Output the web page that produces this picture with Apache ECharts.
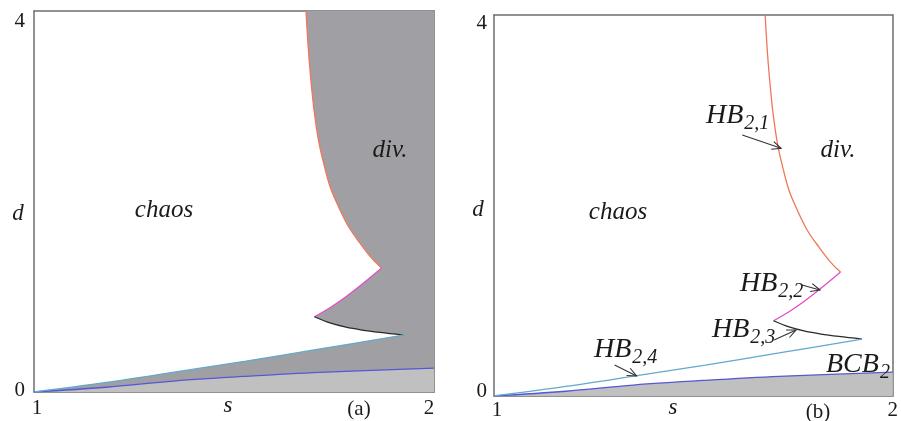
<!DOCTYPE html>
<html>
<head>
<meta charset="utf-8">
<script src="https://cdn.jsdelivr.net/npm/echarts@6/dist/echarts.min.js"></script>
<style>
html,body{margin:0;padding:0;background:#fff;}
#c{width:901px;height:421px;}
</style>
</head>
<body>
<div id="c"></div>
<script>
// ---- data (s, d) ----
const xTicks = [1, 2];
const yTicks = [0, 4];

// HB2,1 (red)
const redS = [1.680, 1.686, 1.693, 1.700, 1.711, 1.724, 1.740, 1.761, 1.786, 1.815, 1.844, 1.869];
const redD = [4.000, 3.591, 3.241, 2.962, 2.647, 2.402, 2.157, 1.948, 1.738, 1.563, 1.406, 1.301];
// HB2,2 (magenta)
const pinkS = [1.869, 1.820, 1.780, 1.740, 1.701];
const pinkD = [1.301, 1.130, 1.000, 0.885, 0.790];
// HB2,3 (black)
const blackS = [1.701, 1.740, 1.780, 1.820, 1.865, 1.923];
const blackD = [0.790, 0.725, 0.680, 0.650, 0.625, 0.598];
// HB2,4 (light blue)
const cyanS = [1.923, 1.715, 1.530, 1.350, 1.180, 1.000];
const cyanD = [0.598, 0.452, 0.325, 0.208, 0.100, 0.000];
// BCB2 (blue)
const blueS = [1.000, 1.180, 1.350, 1.530, 1.715, 2.000];
const blueD = [0.000, 0.050, 0.115, 0.165, 0.207, 0.250];

const pairs = (xs, ys) => xs.map((x, i) => [x, ys[i]]);

// divergence region boundary: red -> pink -> black -> cyan -> bottom -> right edge
const divPoly = [].concat(
  pairs(redS, redD), pairs(pinkS, pinkD), pairs(blackS, blackD), pairs(cyanS, cyanD),
  [[2, 0], [2, 4]]
);

const C_RED = '#f0765a', C_PINK = '#e44cc8', C_BLACK = '#2a2a2a', C_CYAN = '#62aacb', C_BLUE = '#5656d6';
const C_DARK = '#a0a0a4', C_LIGHT = '#c0c0c0', C_AX = '#6e6e6e';
const SERIF = '"Liberation Serif", "Times New Roman", serif';

const chart = echarts.init(document.getElementById('c'), null, {renderer: 'canvas'});

function xAx(gi, xPadL, xPadR, margin) {
  return {
    type: 'value', gridIndex: gi, min: 1, max: 2, interval: 1,
    axisLine: {show: true, onZero: false, lineStyle: {color: C_AX, width: 1.5}},
    axisTick: {show: false}, splitLine: {show: false},
    axisLabel: {
      margin: margin, color: '#1a1a1a', fontFamily: SERIF, fontSize: 21,
      formatter: v => (v === xTicks[0] ? '{l|' + v + '}' : '{r|' + v + '}'),
      rich: {
        l: {fontFamily: SERIF, fontSize: 21, color: '#1a1a1a', padding: [0, 0, 0, xPadL]},
        r: {fontFamily: SERIF, fontSize: 21, color: '#1a1a1a', padding: [0, xPadR, 0, 0]}
      }
    }
  };
}
function yAx(gi, padTop, padBot, margin) {
  return {
    type: 'value', gridIndex: gi, min: 0, max: 4, interval: 4,
    axisLine: {show: true, onZero: false, lineStyle: {color: C_AX, width: 1.5}},
    axisTick: {show: false}, splitLine: {show: false},
    axisLabel: {
      margin: margin, color: '#1a1a1a', fontFamily: SERIF, fontSize: 21,
      formatter: v => (v === yTicks[1] ? '{t|' + v + '}' : '{b|' + v + '}'),
      rich: {
        t: {fontFamily: SERIF, fontSize: 21, color: '#1a1a1a', padding: [padTop, 0, 0, 0]},
        b: {fontFamily: SERIF, fontSize: 21, color: '#1a1a1a', padding: [0, 0, padBot, 0]}
      }
    }
  };
}
function frameX(gi) {
  return {type: 'value', gridIndex: gi, min: 1, max: 2, position: 'top',
    axisLine: {show: true, onZero: false, lineStyle: {color: C_AX, width: 1.5}},
    axisTick: {show: false}, axisLabel: {show: false}, splitLine: {show: false}};
}
function frameY(gi) {
  return {type: 'value', gridIndex: gi, min: 0, max: 4, position: 'right',
    axisLine: {show: true, onZero: false, lineStyle: {color: C_AX, width: 1.5}},
    axisTick: {show: false}, axisLabel: {show: false}, splitLine: {show: false}};
}
function curve(xi, yi, xs, ys, color, z) {
  return {type: 'line', xAxisIndex: xi, yAxisIndex: yi, data: pairs(xs, ys), smooth: 0.35,
    showSymbol: false, symbol: 'none', lineStyle: {color: color, width: 1.3}, z: z || 5, silent: true, animation: false};
}

const series = [
  // panel (a): divergence region
  {type: 'custom', xAxisIndex: 0, yAxisIndex: 0, data: [[1, 0]], z: 1, silent: true, animation: false,
    renderItem: (params, api) => {
      const pts = divPoly.map(p => api.coord(p));
      return {type: 'polygon', shape: {points: pts}, style: {fill: C_DARK}};
    }},
  {type: 'line', xAxisIndex: 0, yAxisIndex: 0, data: pairs(blueS, blueD), showSymbol: false, symbol: 'none', smooth: 0.35,
    lineStyle: {color: C_BLUE, width: 1.3}, areaStyle: {color: C_LIGHT, opacity: 1}, z: 2, silent: true, animation: false},
  curve(0, 0, redS, redD, C_RED),
  curve(0, 0, pinkS, pinkD, C_PINK),
  curve(0, 0, blackS, blackD, C_BLACK),
  curve(0, 0, cyanS, cyanD, C_CYAN),
  // panel (b)
  {type: 'line', xAxisIndex: 2, yAxisIndex: 2, data: pairs(blueS, blueD), showSymbol: false, symbol: 'none', smooth: 0.35,
    lineStyle: {color: C_BLUE, width: 1.3}, areaStyle: {color: C_LIGHT, opacity: 1}, z: 2, silent: true, animation: false},
  curve(2, 2, redS, redD, C_RED),
  curve(2, 2, pinkS, pinkD, C_PINK),
  curve(2, 2, blackS, blackD, C_BLACK),
  curve(2, 2, cyanS, cyanD, C_CYAN)
];

chart.setOption({
  animation: false,
  backgroundColor: '#ffffff',
  grid: [
    {left: 34, top: 11, width: 400, height: 381, containLabel: false},
    {left: 494, top: 15, width: 400, height: 381, containLabel: false}
  ],
  xAxis: [xAx(0, 6, 10, 6), frameX(0), xAx(1, 6, 0, 4), frameX(1)],
  yAxis: [yAx(0, 20, 4, 9), frameY(0), yAx(1, 16, 10, 7), frameY(1)],
  series: series
});

// ---- annotations ----
const IT = s => 'italic ' + s + 'px ' + SERIF;
const RM = s => s + 'px ' + SERIF;
const mctx = document.createElement('canvas').getContext('2d');
function tw(t, font) { mctx.font = font; return mctx.measureText(t).width; }
function txt(x, y, t, font, align) {
  return {type: 'text', x: x, y: y, z: 100, silent: true,
    style: {text: t, font: font, fill: '#1a1a1a', align: align || 'center', verticalAlign: 'middle',
      textAlign: align || 'center', textVerticalAlign: 'middle'}};
}
// main label + subscript placed right after it
function subLabel(x, y, main, sub) {
  const fm = IT(28), fs = IT(20);
  return [txt(x, y, main, fm, 'left'), txt(x + tw(main, fm) + 1, y + 8, sub, fs, 'left')];
}
const texts = [
  // panel (a)
  txt(164, 210, 'chaos', IT(25)), txt(390, 150, 'div.', IT(25)),
  txt(18, 214, 'd', IT(23)), txt(228, 406, 's', IT(23)), txt(359, 409, '(a)', RM(21)),
  // panel (b)
  txt(618, 212, 'chaos', IT(25)), txt(838, 150, 'div.', IT(25)),
  txt(478, 210, 'd', IT(23)), txt(673, 408, 's', IT(23)), txt(818, 412, '(b)', RM(21))
].concat(
  subLabel(706, 116, 'HB', '2,1'),
  subLabel(740, 284, 'HB', '2,2'),
  subLabel(712, 330, 'HB', '2,3'),
  subLabel(594, 350, 'HB', '2,4'),
  subLabel(826, 365, 'BCB', '2')
);

// arrows (data coords on panel b): [tailS, tailD, tipS, tipD]
const arrows = [
  [1.6225, 2.740, 1.720, 2.600],
  [1.7725, 1.165, 1.8175, 1.113],
  [1.7025, 0.588, 1.7575, 0.693],
  [1.3025, 0.325, 1.3575, 0.210]
];
const arrowEls = [];
arrows.forEach(a => {
  const p0 = chart.convertToPixel({gridIndex: 1}, [a[0], a[1]]);
  const p1 = chart.convertToPixel({gridIndex: 1}, [a[2], a[3]]);
  const ang = Math.atan2(p1[1] - p0[1], p1[0] - p0[0]);
  const L = 10, w = 0.42;
  const h1 = [p1[0] - L * Math.cos(ang - w), p1[1] - L * Math.sin(ang - w)];
  const h2 = [p1[0] - L * Math.cos(ang + w), p1[1] - L * Math.sin(ang + w)];
  arrowEls.push({type: 'polyline', z: 99, silent: true, shape: {points: [p0, p1]}, style: {stroke: '#333', lineWidth: 1.1, fill: null}});
  arrowEls.push({type: 'polyline', z: 99, silent: true, shape: {points: [h1, p1, h2]}, style: {stroke: '#333', lineWidth: 1.1, fill: null}});
});

chart.setOption({graphic: {elements: texts.concat(arrowEls)}});
</script>
</body>
</html>
